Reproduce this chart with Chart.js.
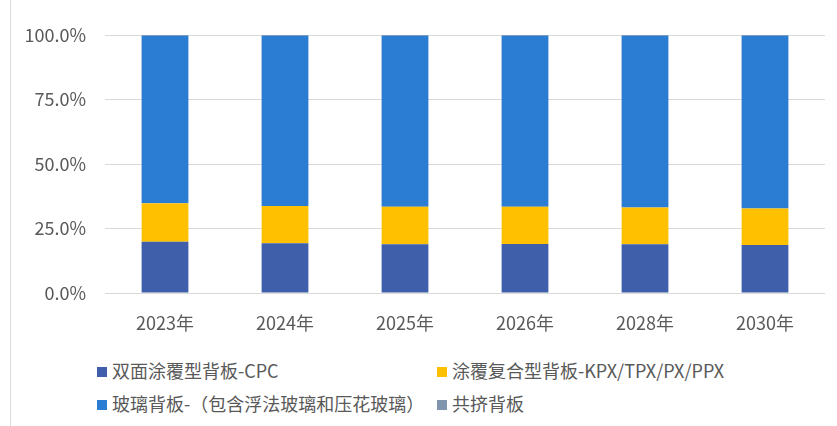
<!DOCTYPE html>
<html>
<head>
<meta charset="utf-8">
<script src="https://cdn.jsdelivr.net/npm/chart.js@4"></script>
<style>
  body { margin: 0; background: #fff; }
  #wrap { position: relative; width: 837px; height: 426px; overflow: hidden; }
  #wrap:before { content: ""; position: absolute; left: 10px; top: 0; bottom: 0; border-left: 1px solid #dcdcdc; }
  #box { position: absolute; left: 0; top: 0; width: 837px; height: 345px; }
  #legend { position: absolute; left: 0; top: 358px; width: 837px; font-family: "Noto Sans CJK SC", sans-serif; font-size: 18px; color: #595959; }
  .item { position: absolute; white-space: nowrap; line-height: 24px; }
  .item i { display: inline-block; width: 10px; height: 10px; margin-right: 5px; vertical-align: 1px; }
</style>
</head>
<body>
<div id="wrap">
  <div id="box"><canvas id="chart"></canvas></div>
  <div id="legend"></div>
</div>
<script>
// категории и серии (доли в %)
const years = ["2023年", "2024年", "2025年", "2026年", "2028年", "2030年"];
const names = ["双面涂覆型背板-CPC", "涂覆复合型背板-KPX/TPX/PX/PPX", "玻璃背板-（包含浮法玻璃和压花玻璃）", "共挤背板"];
const cpc   = [19.9, 19.3, 18.9, 19.0, 18.9, 18.6];
const kpx   = [14.9, 14.4, 14.5, 14.4, 14.2, 14.2];
const glass = [64.9, 66.0, 66.3, 66.3, 66.6, 66.9];
const coex  = [0.3, 0.3, 0.3, 0.3, 0.3, 0.3];
const yTicks = [0, 25, 50, 75, 100];

const colors = ["#3f5fab", "#ffc000", "#2b7cd3", "#8094ad"];
const series = [cpc, kpx, glass, coex];

const ctx = document.getElementById('chart').getContext('2d');
const myChart = new Chart(ctx, {
    type: 'bar',
    data: {
        labels: years,
        datasets: series.map((s, i) => ({
            label: names[i],
            data: s,
            backgroundColor: colors[i],
            borderWidth: 0,
            categoryPercentage: 1,
            barPercentage: 0.39
        }))
    },
    options: {
        responsive: true,
        maintainAspectRatio: false,
        animation: false,
        layout: { padding: { left: 0, right: 12, top: 35, bottom: 0 } },
        plugins: { legend: { display: false }, tooltip: { enabled: false } },
        scales: {
            x: {
                stacked: true,
                grid: { display: false },
                border: { display: false },
                ticks: { color: '#595959', font: { family: 'Noto Sans CJK SC', size: 18 }, padding: 11 },
                afterFit: s => { s.height = 52; }
            },
            y: {
                stacked: true,
                min: 0,
                max: 100,
                afterBuildTicks: s => { s.ticks = yTicks.map(v => ({ value: v })); },
                grid: { color: '#d9d9d9', drawTicks: false },
                border: { display: false },
                ticks: {
                    color: '#595959',
                    font: { family: 'Noto Sans CJK SC', size: 18 },
                    padding: 19,
                    callback: v => v.toFixed(1) + '%'
                },
                afterFit: s => { s.width = 105; }
            }
        }
    }
});

// легенда в две колонки, как в оригинале
const legend = document.getElementById('legend');
const pos = [[97, 0], [437, 0], [97, 33], [437, 33]];
myChart.data.datasets.forEach((d, i) => {
    const el = document.createElement('div');
    el.className = 'item';
    el.style.left = pos[i][0] + 'px';
    el.style.top = pos[i][1] + 'px';
    el.innerHTML = `<i style="background:${d.backgroundColor}"></i>${d.label}`;
    legend.appendChild(el);
});
</script>
</body>
</html>
